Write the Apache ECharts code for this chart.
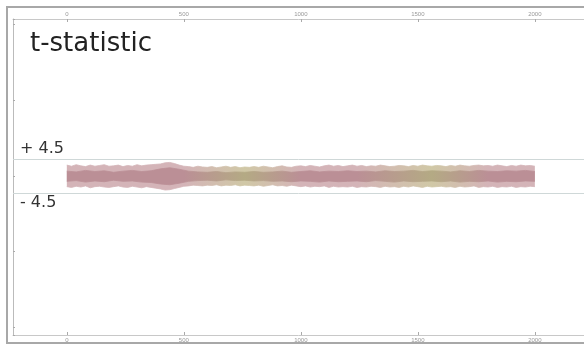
<!DOCTYPE html>
<html>
<head>
<meta charset="utf-8">
<script src="https://cdn.jsdelivr.net/npm/echarts@6/dist/echarts.min.js"></script>
<style>
  html, body { margin: 0; padding: 0; background: #fff; }
  #main { width: 584px; height: 345px; }
</style>
</head>
<body>
<div id="main"></div>
<script>
const outerStep = 20;   // samples between envelope points (outer band)
const innerStep = 40;   // samples between envelope points (dense core)
const xTicks = [0, 500, 1000, 1500, 2000];
const thresholds = [4.5, -4.5];
const thresholdLabels = ['+ 4.5', '- 4.5'];

const upperOuter = [
  2.9, 2.6, 3.0, 2.7, 2.5, 2.9, 2.6, 2.8, 3.0, 2.6,
  2.7, 2.9, 2.5, 2.8, 2.6, 3.0, 2.7, 2.9, 3.0, 3.1,
  3.2, 3.5, 3.6, 3.3, 2.9, 2.6, 2.5, 2.3, 2.6, 2.4,
  2.3, 2.5, 2.2, 2.4, 2.6, 2.3, 2.5, 2.2, 2.4, 2.3,
  2.5, 2.3, 2.6, 2.4, 2.2, 2.5, 2.7, 2.4, 2.3, 2.6,
  2.7, 2.5, 2.8, 2.6, 2.4, 2.7, 2.9, 2.6, 2.8, 2.5,
  2.7, 2.9, 2.6, 2.8, 2.5, 2.7, 2.6, 2.9, 2.7, 2.5,
  2.6, 2.8, 2.7, 2.5, 2.8, 2.6, 2.9, 2.7, 2.6, 2.8,
  2.7, 2.5, 2.8, 2.6, 2.9, 2.7, 2.6, 2.8, 2.9, 2.7,
  2.8, 2.6, 2.9, 2.7, 2.5, 2.8, 2.6, 2.9, 2.7, 2.8,
  2.6
];
const lowerOuter = [
  -2.8, -3.0, -2.7, -2.9, -2.6, -3.1, -2.8, -2.7, -2.9, -3.0,
  -2.8, -2.6, -2.9, -3.0, -2.7, -2.9, -3.1, -2.8, -3.0, -3.2,
  -3.4, -3.7, -3.6, -3.3, -3.0, -2.7, -2.6, -2.4, -2.5, -2.6,
  -2.4, -2.5, -2.3, -2.6, -2.4, -2.5, -2.3, -2.6, -2.4, -2.5,
  -2.6, -2.4, -2.7, -2.5, -2.3, -2.6, -2.5, -2.7, -2.4, -2.6,
  -2.8, -2.6, -2.9, -2.7, -2.8, -2.6, -3.0, -2.7, -2.9, -2.8,
  -2.9, -2.7, -3.0, -2.8, -2.9, -2.7, -2.8, -3.0, -2.7, -2.9,
  -2.8, -3.0, -2.7, -2.9, -2.6, -2.8, -3.0, -2.7, -2.9, -2.8,
  -2.7, -2.9, -2.8, -3.0, -2.7, -2.9, -2.8, -2.6, -3.0, -2.8,
  -2.9, -2.7, -3.0, -2.8, -2.9, -2.7, -3.0, -2.8, -2.9, -2.7,
  -2.8
];
const upperInner = [
  1.3, 1.1, 1.5, 1.2, 1.4, 1.0, 1.3, 1.5, 1.2, 1.4,
  1.9, 2.2, 1.8, 1.3, 1.1, 1.0, 1.2, 0.9, 1.1, 1.0,
  1.2, 1.0, 1.1, 1.3, 1.0, 1.2, 1.4, 1.1, 1.3, 1.2,
  1.4, 1.2, 1.3, 1.1, 1.4, 1.2, 1.3, 1.5, 1.2, 1.4,
  1.3, 1.1, 1.4, 1.2, 1.5, 1.3, 1.2, 1.4, 1.3, 1.5,
  1.2
];
const lowerInner = [
  -1.4, -1.2, -1.6, -1.3, -1.5, -1.1, -1.4, -1.3, -1.6, -1.7,
  -2.1, -2.3, -1.9, -1.4, -1.2, -1.1, -1.3, -1.0, -1.2, -1.1,
  -1.3, -1.2, -1.4, -1.3, -1.5, -1.3, -1.4, -1.6, -1.3, -1.5,
  -1.4, -1.3, -1.5, -1.2, -1.4, -1.6, -1.3, -1.5, -1.4, -1.3,
  -1.5, -1.3, -1.6, -1.4, -1.5, -1.3, -1.6, -1.4, -1.5, -1.3,
  -1.4
];

const toPoints = (vals, step) => vals.map((v, i) => [i * step, v]);

// mauve / olive mix along the trace
const bandGradient = (mauve, olive) => new echarts.graphic.LinearGradient(0, 0, 1, 0, [
  {offset: 0, color: mauve},
  {offset: 0.25, color: mauve},
  {offset: 0.38, color: olive},
  {offset: 0.5, color: mauve},
  {offset: 0.62, color: mauve},
  {offset: 0.78, color: olive},
  {offset: 0.9, color: mauve},
  {offset: 1, color: mauve}
]);

var myChart = echarts.init(document.getElementById('main'), null, {renderer: 'canvas'});

const xBase = {
  type: 'value',
  min: -230,
  max: 2210,
  splitLine: {show: false},
  axisLine: {show: true, onZero: false, lineStyle: {color: '#c8c8c8'}},
  axisTick: {show: true, customValues: xTicks, length: 3, inside: true, lineStyle: {color: '#aaa'}},
  axisLabel: {show: true, customValues: xTicks, formatter: (v) => String(v), fontSize: 6, color: '#999', margin: 2}
};

const band = (name, data, mauve, olive) => ({
  name: name,
  type: 'line',
  xAxisIndex: 0,
  data: data,
  showSymbol: false,
  lineStyle: {width: 0.8, color: bandGradient(mauve, olive)},
  areaStyle: {origin: 0, opacity: 1, color: bandGradient(mauve, olive)}
});

const outerUp = band('upper outer', toPoints(upperOuter, outerStep), '#d4b4b8', '#d0c8a6');
outerUp.markLine = {
  silent: true,
  symbol: 'none',
  lineStyle: {color: '#cfd8d8', width: 1, type: 'solid'},
  data: thresholds.map((t, i) => ({
    yAxis: t,
    label: {
      show: true,
      formatter: thresholdLabels[i],
      position: t > 0 ? 'insideStartTop' : 'insideStartBottom',
      distance: [7, 2],
      fontFamily: 'DejaVu Sans',
      fontSize: 16,
      color: '#333'
    }
  }))
};

myChart.setOption({
  animation: false,
  backgroundColor: '#fff',
  title: {
    text: 't-statistic',
    left: 25,
    top: 26,
    textStyle: {fontFamily: 'DejaVu Sans', fontSize: 26, fontWeight: 'normal', color: '#222'}
  },
  grid: {left: 13, right: 0, top: 19, bottom: 10},
  xAxis: [
    Object.assign({}, xBase, {position: 'top'}),
    Object.assign({}, xBase, {position: 'bottom'})
  ],
  yAxis: {
    type: 'value',
    min: -42,
    max: 41.5,
    splitLine: {show: false},
    axisLine: {show: true, onZero: false, lineStyle: {color: '#bbb'}},
    axisTick: {show: true, inside: true, length: 2, lineStyle: {color: '#aaa'}},
    axisLabel: {show: false}
  },
  graphic: [{
    type: 'rect',
    shape: {x: 7, y: 7, width: 580, height: 336},
    style: {fill: 'none', stroke: '#a8a8a8', lineWidth: 2},
    silent: true
  }],
  series: [
    outerUp,
    band('lower outer', toPoints(lowerOuter, outerStep), '#d4b4b8', '#d0c8a6'),
    band('upper inner', toPoints(upperInner, innerStep), '#bb8f96', '#b4aa84'),
    band('lower inner', toPoints(lowerInner, innerStep), '#bb8f96', '#b4aa84')
  ]
});
</script>
</body>
</html>
